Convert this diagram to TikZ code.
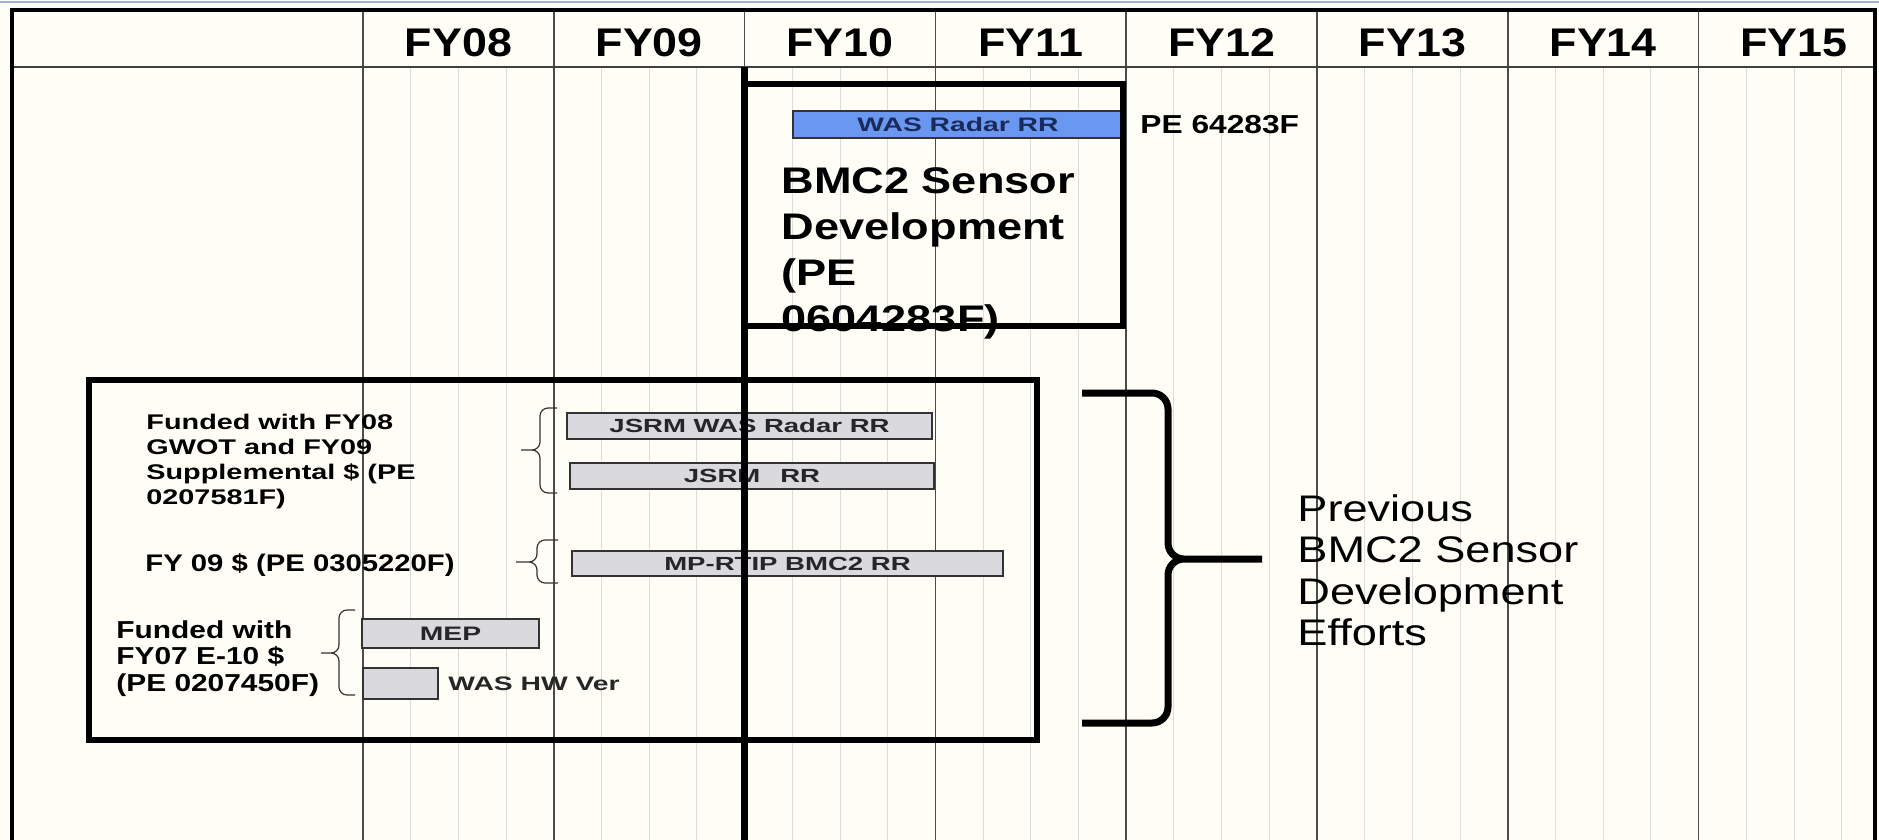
\documentclass[tikz,border=0pt]{standalone}
\usepackage{fontspec}
\setmainfont{Liberation Sans}[FakeStretch=1.22]
\newfontfamily\widefont{Liberation Sans}[FakeStretch=1.45]
\newfontfamily\notefont{Liberation Sans}[FakeStretch=1.36]
\newfontfamily\yearfont{Liberation Sans}[FakeStretch=1.12]
\usepackage{xcolor}
\definecolor{paper}{HTML}{FFFEF6}
\definecolor{barblue}{HTML}{6A98F0}
\definecolor{bargray}{HTML}{D9D9DE}
\definecolor{navytext}{HTML}{1B2A5C}
\definecolor{rulegray}{HTML}{DCDCDC}
\definecolor{topblue}{HTML}{9DB3D3}

\begin{document}
\begin{tikzpicture}[
    x=0.5pt, y=-0.5pt,
    major/.style={draw=black!70, line width=0.75pt},
    quarter/.style={draw=rulegray, line width=0.5pt},
    frame/.style={line width=2pt},
    heavybox/.style={line width=3pt},
    bar/.style={draw=black!80, line width=0.7pt},
    barlabel/.style={font=\widefont\fontsize{9.5}{11}\selectfont\bfseries, text=black!85, inner sep=0},
    yearlabel/.style={font=\yearfont\fontsize{20}{24}\selectfont\bfseries, inner sep=0, anchor=base},
    note/.style={align=left, inner sep=0, anchor=north west},
    smallbrace/.style={draw=black!80, line width=0.6pt, rounded corners=4pt},
    bigbrace/.style={line width=3.5pt, rounded corners=8pt}
]
\useasboundingbox (0,0) rectangle (1879,840);
\fill[paper] (0,0) rectangle (1879,840);

% grid: quarters and fiscal years
\foreach \i in {0,...,7}
  \foreach \q in {1,2,3}
    \draw[quarter] ({363+190.8*\i+47.7*\q},67) -- ({363+190.8*\i+47.7*\q},840);
\foreach \i in {0,...,7}
  \draw[major] ({363+190.8*\i},10) -- ({363+190.8*\i},840);
\draw[draw=black!75, line width=1pt] (12,67) -- (1875,67);
\draw[topblue, line width=1pt] (0,2) -- (1879,2);
\draw[frame] (12,840) -- (12,10) -- (1875,10) -- (1875,840);

\foreach \yr [count=\i from 0] in {08,09,10,11,12,13,14,15}
  \node[yearlabel] (fy\yr) at ({458.4+190.8*\i},57) {FY\yr};

% bars
\draw[bar, fill=barblue] (793,111) rectangle node[barlabel, text=navytext, font=\widefont\fontsize{9.75}{11}\selectfont\bfseries] (wasradar) {WAS Radar RR} (1123,138);
\draw[bar, fill=bargray] (567,413) rectangle node[barlabel] (jsrmwas) {JSRM WAS Radar RR} (932,439);
\draw[bar, fill=bargray] (570,463) rectangle node[barlabel] (jsrm) {JSRM\hspace{10pt}RR} (934,489);
\draw[bar, fill=bargray] (572,551) rectangle node[barlabel] (mprtip) {MP-RTIP BMC2 RR} (1003,576);
\draw[bar, fill=bargray] (362,619) rectangle node[barlabel, font=\widefont\fontsize{9.75}{11}\selectfont\bfseries] (mep) {MEP} (539,648);
\draw[bar, fill=bargray] (363,668) rectangle (438,699);
\node[barlabel, font=\widefont\fontsize{9.75}{11}\selectfont\bfseries, anchor=west] (washw) at (448,684) {WAS HW Ver};

% current program line and boxes
\draw[line width=3.5pt] (744.6,67) -- (744.6,840);
\draw[heavybox] (744.6,84) rectangle (1123,326);
\draw[heavybox] (89,380) rectangle (1037,740);

\node[note, font=\fontsize{18.5}{23}\selectfont\bfseries] (bmcdev) at (781,167) {BMC2 Sensor\\Development\\(PE\\0604283F)};
\node[font=\fontsize{13}{15}\selectfont\bfseries, anchor=west, inner sep=0] (pe64) at (1140,125) {PE 64283F};

% funding notes
\node[note, font=\notefont\fontsize{10.6}{12.5}\selectfont\bfseries] (fundgwot) at (146,414) {Funded with FY08\\GWOT and FY09\\Supplemental \$ (PE\\0207581F)};
\node[anchor=base west, inner sep=0, font=\fontsize{12}{14}\selectfont\bfseries] (fy09note) at (145,571) {FY 09 \$ (PE 0305220F)};
\node[note, font=\fontsize{12.25}{13.25}\selectfont\bfseries] (funde10) at (116,620) {Funded with\\FY07 E-10 \$\\(PE 0207450F)};

\draw[smallbrace] (557,408) -| (540,450) -- (521,450) (557,493) -| (540,450) -- (521,450);
\draw[smallbrace] (558,540) -| (537,562) -- (516,562) (558,583) -| (537,562) -- (516,562);
\draw[smallbrace] (355,610) -| (339,653) -- (321,653) (355,695) -| (339,653) -- (321,653);

% previous efforts
\draw[bigbrace] (1082,393) -| (1168,559) -- (1262,559) (1082,723) -| (1168,559) -- (1262,559);
\node[note, font=\fontsize{18.5}{20.75}\selectfont] (prevdev) at (1297,494) {Previous\\BMC2 Sensor\\Development\\Efforts};
\end{tikzpicture}
\end{document}
